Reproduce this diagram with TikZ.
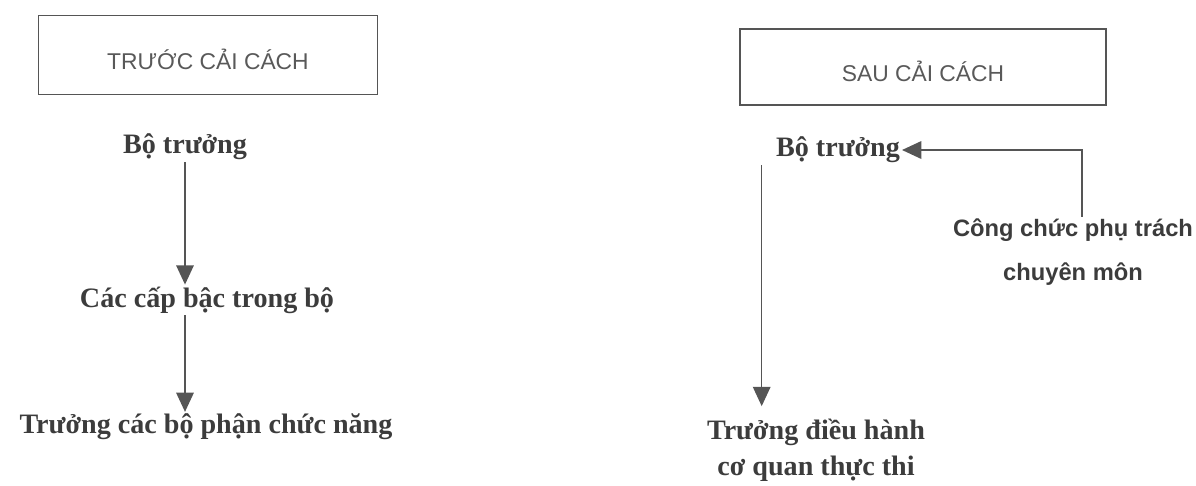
\documentclass[tikz,border=0pt]{standalone}
\usepackage{fontspec}
\setmainfont{Liberation Serif}
\setsansfont{Liberation Sans}
\usetikzlibrary{arrows.meta, positioning}
\definecolor{inkgray}{HTML}{3C3C3C}
\definecolor{linegray}{HTML}{555555}
\tikzset{
  phase/.style={draw=linegray, line width=0.8pt, text=inkgray!85, font=\sffamily\fontsize{13}{15}\selectfont, minimum width=6.78cm, minimum height=1.58cm, text height=17pt, text depth=0pt},
  rank/.style={text=inkgray, font=\bfseries\fontsize{16}{20.5}\selectfont, align=center, inner sep=1pt},
  staff/.style={text=inkgray, font=\sffamily\bfseries\fontsize{13.5}{25}\selectfont, align=center, inner sep=1pt},
  arr/.style={draw=linegray, line width=0.9pt, -{Triangle[length=11pt, width=10pt]}}
}
\begin{document}
\begin{tikzpicture}[x=0.02cm, y=-0.02cm]
\useasboundingbox (0,0) rectangle (1196,485);
% truoc cai cach
\node[phase] (before) at (208,55) {TRƯỚC CẢI CÁCH};
\node[rank] (bt1) at (185,147) {Bộ trưởng};
\node[rank] (cap) at (207,300) {Các cấp bậc trong bộ};
\node[rank] (truong) at (206,427) {Trưởng các bộ phận chức năng};
\draw[arr] (bt1) -- (bt1 |- cap.north);
\draw[arr] (bt1 |- cap.south) -- (bt1 |- truong.north);
% sau cai cach
\node[phase, minimum width=7.32cm, minimum height=1.52cm, text height=16pt] (after) at (923,67) {SAU CẢI CÁCH};
\node[rank] (bt2) at (838,150) {Bộ trưởng};
\node[staff] (cc) at (1073,252) {Công chức phụ trách\\chuyên môn};
\node[rank] (dh) at (816,450) {Trưởng điều hành\\cơ quan thực thi};
\draw[arr, shorten >=6pt] ([xshift=-7pt]bt2.south west) -- ([xshift=-7pt]bt2.south west |- dh.north);
\draw[arr] ([xshift=5pt]cc.north) |- (bt2);
\end{tikzpicture}
\end{document}
